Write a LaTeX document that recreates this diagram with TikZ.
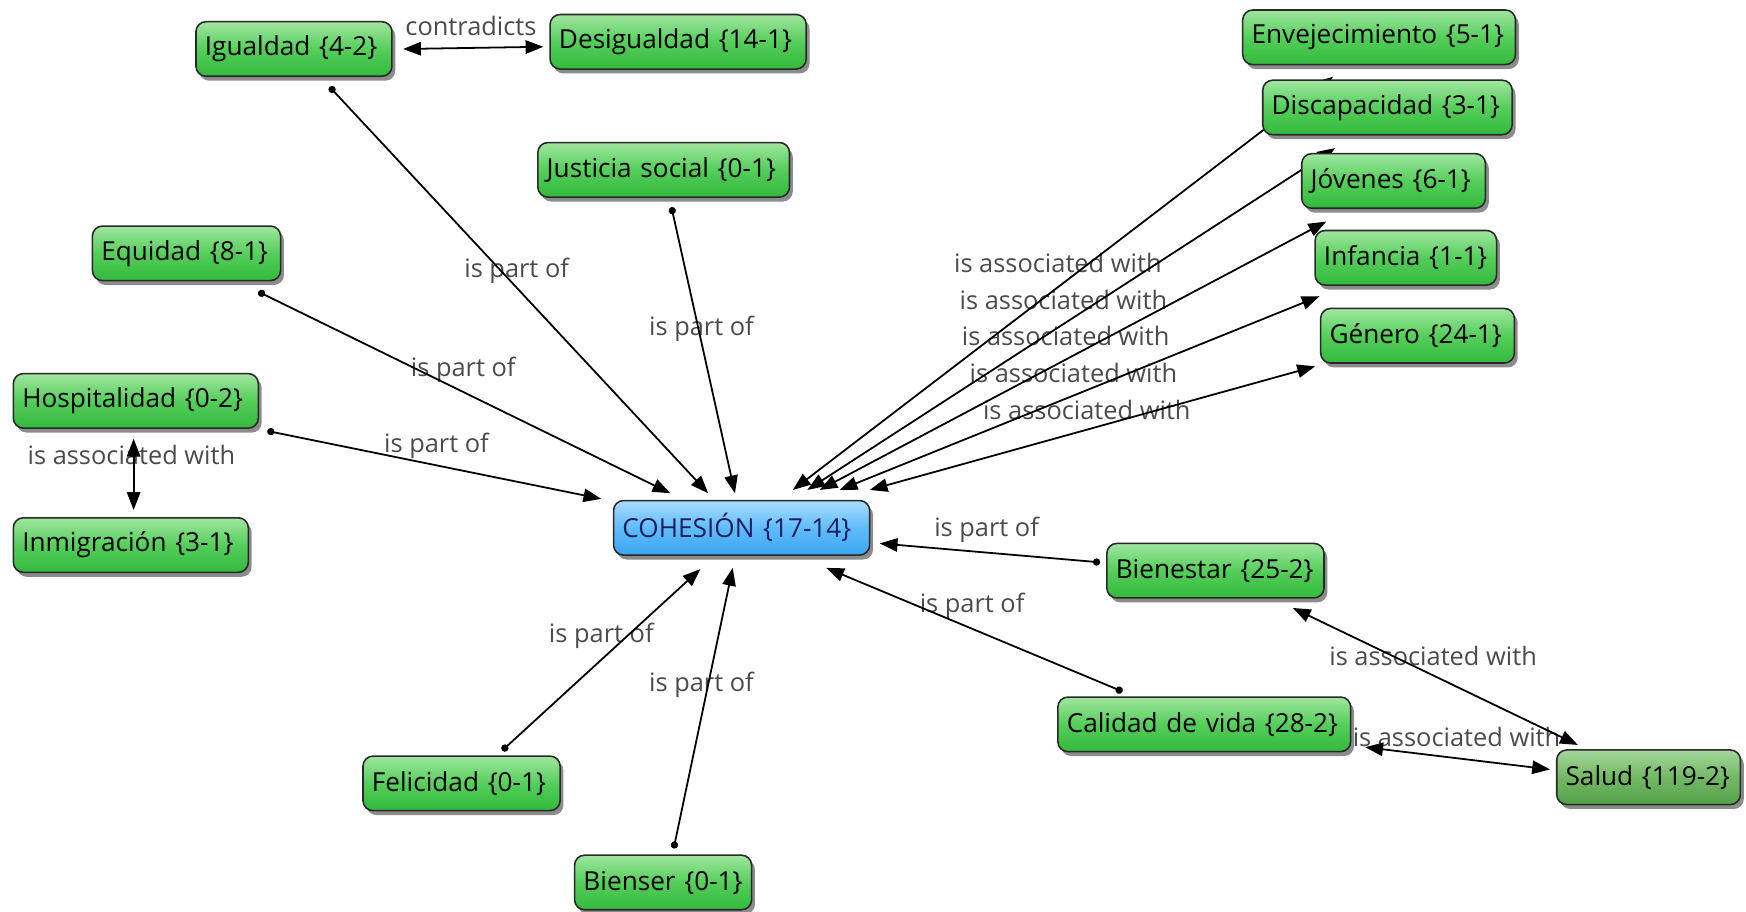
\documentclass[tikz,border=0pt]{standalone}
\usepackage{fontspec}
\setmainfont{Open Sans}
\usetikzlibrary{arrows.meta,calc,shadows}
\pgfdeclarelayer{lab}
\pgfdeclarelayer{edg}
\pgfsetlayers{lab,edg,main}
\definecolor{gtop}{RGB}{160,230,160}
\definecolor{gmid}{RGB}{85,206,90}
\definecolor{gbot}{RGB}{50,185,60}
\definecolor{stop}{RGB}{165,215,155}
\definecolor{smid}{RGB}{115,185,100}
\definecolor{sbot}{RGB}{85,160,72}
\definecolor{btop}{RGB}{170,220,255}
\definecolor{bmid}{RGB}{95,188,250}
\definecolor{bbot}{RGB}{60,165,240}
\definecolor{bord}{RGB}{40,40,40}
\definecolor{lblc}{RGB}{75,75,75}
\definecolor{navy}{RGB}{30,30,95}
\begin{document}
\begin{tikzpicture}[x=1pt,y=-1pt,
  concept/.style={draw=bord, line width=1.4pt, rounded corners=9pt,
    top color=gtop, bottom color=gbot, middle color=gmid,
    minimum height=49pt, inner xsep=8pt, inner ysep=0pt, align=left,
    font=\fontsize{23.5}{27}\selectfont, text=black,
    drop shadow={shadow xshift=3pt, shadow yshift=-4pt, opacity=0.45, fill=black}},
  saludc/.style={concept, top color=stop, bottom color=sbot, middle color=smid},
  mainc/.style={concept, top color=btop, bottom color=bbot, middle color=bmid, text=navy},
  lbl/.style={text=lblc, font=\fontsize{22.8}{26}\selectfont, inner sep=0pt},
  partof/.style={line width=1.6pt, {Circle[length=6.5pt]}-{Triangle[length=16pt,width=12pt]}},
  assoc/.style={line width=1.6pt, {Triangle[length=16pt,width=12pt]}-{Triangle[length=16pt,width=12pt]}}
]
\useasboundingbox (0,0) rectangle (1568,819);

% concepts
\node[concept, text width=160pt] (igualdad) at (264,44) {\mbox{Igualdad \{4-2\}}};
\node[concept, text width=214pt] (desigualdad) at (609,37.5) {\mbox{Desigualdad \{14-1\}}};
\node[concept, text width=210pt] (justicia) at (596,152.5) {\mbox{Justicia social \{0-1\}}};
\node[concept, text width=153pt] (equidad) at (167.5,227.5) {\mbox{Equidad \{8-1\}}};
\node[concept, text width=204pt] (hospitalidad) at (122,360) {\mbox{Hospitalidad \{0-2\}}};
\node[concept, text width=195pt] (inmigracion) at (117.5,489.5) {\mbox{Inmigración \{3-1\}}};
\node[mainc, text width=214pt] (cohesion) at (666,474) {\mbox{COHESIÓN \{17-14\}}};
\node[concept, text width=161pt] (felicidad) at (414.5,703.5) {\mbox{Felicidad \{0-1\}}};
\node[concept, text width=143pt] (bienser) at (595.5,792.5) {\mbox{Bienser \{0-1\}}};
\node[concept, text width=179pt] (bienestar) at (1091.5,512.5) {\mbox{Bienestar \{25-2\}}};
\node[concept, text width=247pt] (calidad) at (1081.5,650.5) {\mbox{Calidad de vida \{28-2\}}};
\node[saludc, text width=149pt] (salud) at (1480.5,698) {\mbox{Salud \{119-2\}}};
\node[concept, text width=229pt] (envejecimiento) at (1238.5,33.5) {\mbox{Envejecimiento \{5-1\}}};
\node[concept, text width=208pt] (discapacidad) at (1246,96.5) {\mbox{Discapacidad \{3-1\}}};
\node[concept, text width=149pt] (jovenes) at (1251.5,162.5) {\mbox{Jóvenes \{6-1\}}};
\node[concept, text width=147pt] (infancia) at (1262.5,231.5) {\mbox{Infancia \{1-1\}}};
\node[concept, text width=158pt] (genero) at (1273,301.5) {\mbox{Género \{24-1\}}};

% linking phrases
\begin{pgfonlayer}{lab}
\node[lbl] (lcontra) at (423,23) {contradicts};
\node[lbl] (lp1) at (464,243) {is part of};
\node[lbl] (lp2) at (630,295) {is part of};
\node[lbl] (lp3) at (416,332) {is part of};
\node[lbl] (lp4) at (392,400) {is part of};
\node[lbl] (lp5) at (540,571) {is part of};
\node[lbl] (lp6) at (630,615) {is part of};
\node[lbl] (lp7) at (886,476) {is part of};
\node[lbl] (lp8) at (873,544) {is part of};
\node[lbl] (la0) at (118,409) {is associated with};
\node[lbl] (la1) at (950,236) {is associated with};
\node[lbl] (la2) at (955,269) {is associated with};
\node[lbl] (la3) at (957,302) {is associated with};
\node[lbl] (la4) at (964,335) {is associated with};
\node[lbl] (la5) at (976,368) {is associated with};
\node[lbl] (la6) at (1287,589) {is associated with};
\node[lbl] (la7) at (1308,662) {is associated with};
\end{pgfonlayer}

% connectors
\begin{pgfonlayer}{edg}
\draw[partof] ($(igualdad)+(32,34)$) -- ($(cohesion)+(-30,-31)$);
\draw[partof] ($(justicia)+(7,33.5)$) -- ($(cohesion)+(-6,-31)$);
\draw[partof] ($(equidad)+(64.5,34.5)$) -- ($(cohesion)+(-64,-31)$);
\draw[partof] ($(hospitalidad)+(118,27)$) -- ($(cohesion)+(-126,-26)$);
\draw[partof] ($(felicidad)+(36.5,-29.5)$) -- ($(cohesion)+(-37,37)$);
\draw[partof] ($(bienser)+(9.5,-30.5)$) -- ($(cohesion)+(-8,36)$);
\draw[partof] ($(bienestar)+(-103.5,-7.5)$) -- ($(cohesion)+(124,14)$);
\draw[partof] ($(calidad)+(-73.5,-29.5)$) -- ($(cohesion)+(76,36)$);

\draw[assoc] ($(hospitalidad)+(-2,34)$) -- ($(inmigracion)+(2.5,-31.5)$);
\draw[assoc] ($(igualdad)+(98,0)$) -- ($(desigualdad)+(-121,4.5)$);
\draw[assoc] ($(bienestar)+(69.5,33.5)$) -- ($(salud)+(-63.5,-29)$);
\draw[assoc] ($(calidad)+(144.5,20.5)$) -- ($(salud)+(-88.5,-7)$);

\draw[assoc] ($(cohesion)+(46,-34)$) -- ($(envejecimiento)+(-41.5,35.5)$);
\draw[assoc] ($(cohesion)+(59,-34)$) -- ($(discapacidad)+(-47,36.5)$);
\draw[assoc] ($(cohesion)+(70,-34)$) -- ($(jovenes)+(-60.5,36.5)$);
\draw[assoc] ($(cohesion)+(88,-34)$) -- ($(infancia)+(-77.5,34.5)$);
\draw[assoc] ($(cohesion)+(115,-34)$) -- ($(genero)+(-92,27.5)$);
\end{pgfonlayer}
\end{tikzpicture}
\end{document}
